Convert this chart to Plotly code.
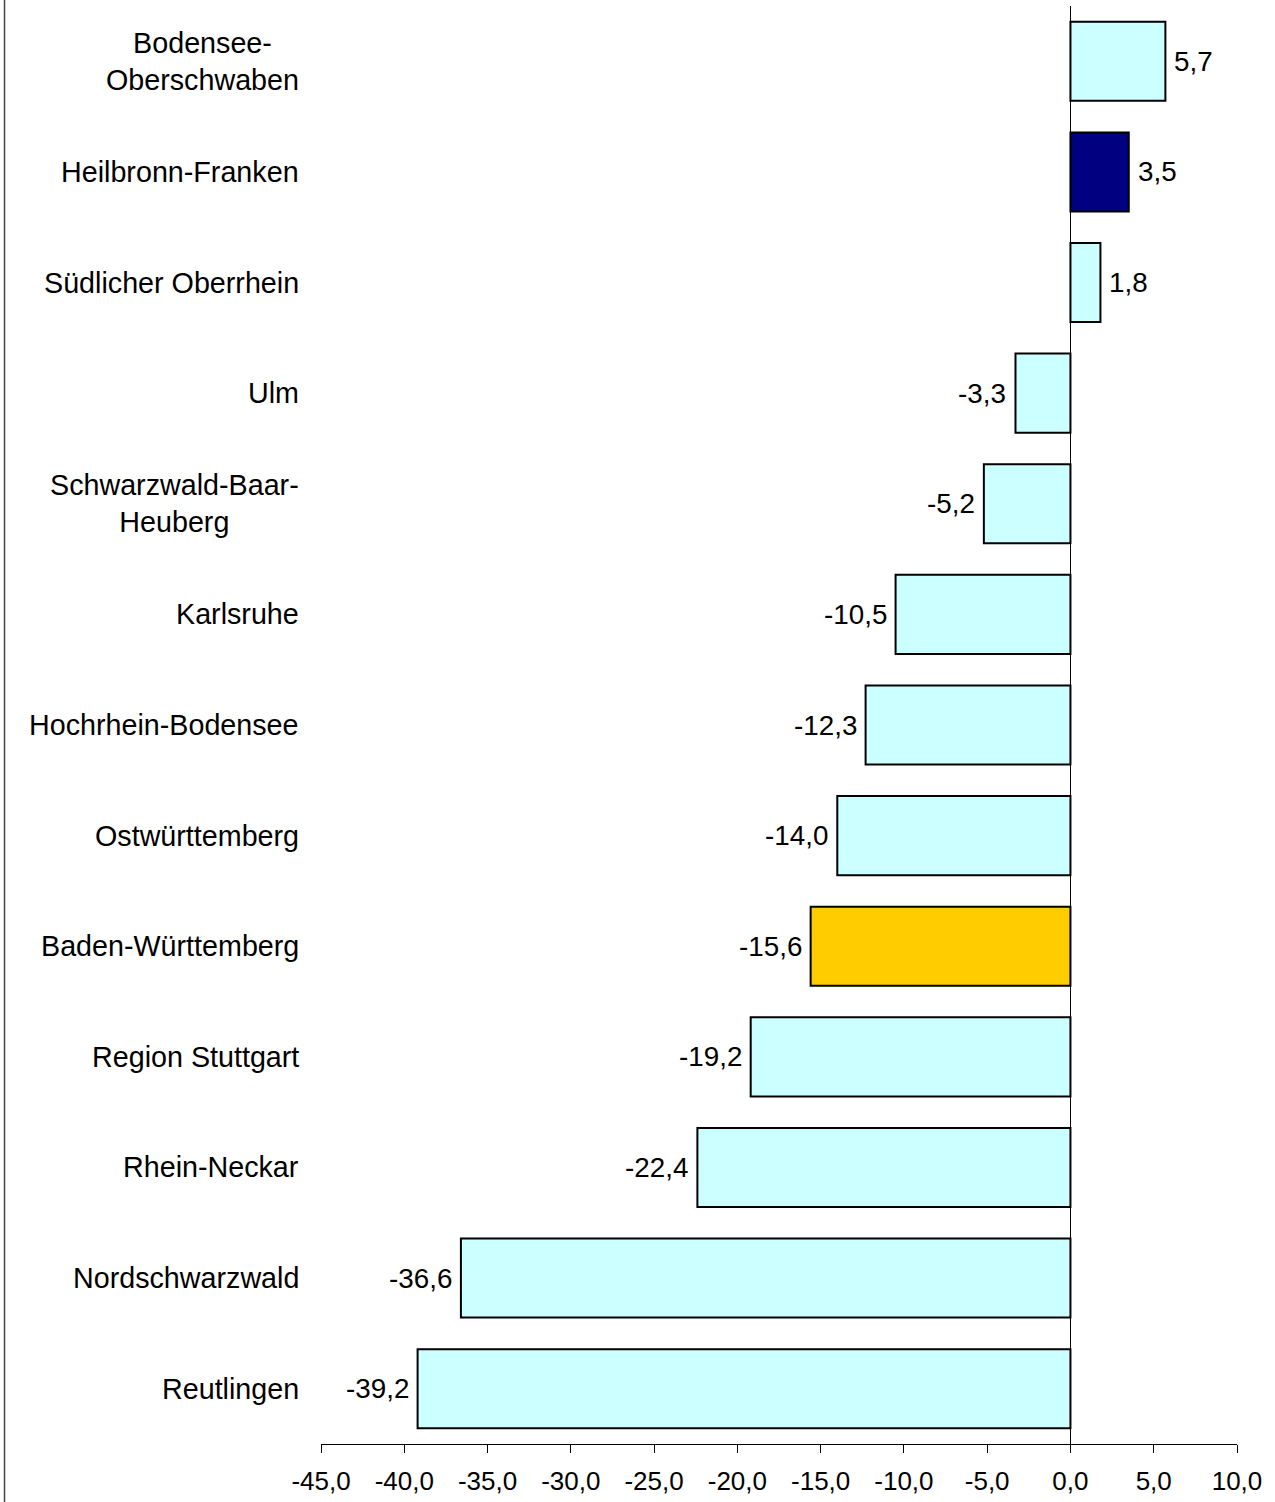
import plotly.graph_objects as go

regions = ["Bodensee-<br>Oberschwaben", "Heilbronn-Franken", "Südlicher Oberrhein", "Ulm",
           "Schwarzwald-Baar-<br>Heuberg", "Karlsruhe", "Hochrhein-Bodensee", "Ostwürttemberg",
           "Baden-Württemberg", "Region Stuttgart", "Rhein-Neckar", "Nordschwarzwald", "Reutlingen"]
values = [5.7, 3.5, 1.8, -3.3, -5.2, -10.5, -12.3, -14.0, -15.6, -19.2, -22.4, -36.6, -39.2]
bar_colors = ["#CCFFFF", "#000080", "#CCFFFF", "#CCFFFF", "#CCFFFF", "#CCFFFF", "#CCFFFF",
              "#CCFFFF", "#FFCC00", "#CCFFFF", "#CCFFFF", "#CCFFFF", "#CCFFFF"]
tick_vals = [-45, -40, -35, -30, -25, -20, -15, -10, -5, 0, 5, 10]
tick_text = ["-45,0", "-40,0", "-35,0", "-30,0", "-25,0", "-20,0", "-15,0", "-10,0", "-5,0",
             "0,0", "5,0", "10,0"]

FONT = "Liberation Sans, Arial, sans-serif"
idx = list(range(len(regions)))
labels = [f"{v:.1f}".replace(".", ",") for v in values]

fig = go.Figure(go.Bar(
    y=idx, x=values, orientation="h",
    marker=dict(color=bar_colors, line=dict(color="black", width=2)),
    width=0.715,
))

for i, r in enumerate(regions):
    fig.add_annotation(x=0, xref="paper", y=i, yref="y", text=r, showarrow=False,
                       xanchor="right", yanchor="middle", align="center", xshift=-20,
                       font=dict(family=FONT, size=28.7, color="black"))

for i, (v, t) in enumerate(zip(values, labels)):
    fig.add_annotation(x=v, xref="x", y=i, yref="y", text=t, showarrow=False,
                       xanchor="left" if v >= 0 else "right", yanchor="middle",
                       xshift=7 if v >= 0 else -7,
                       font=dict(family=FONT, size=27.8, color="black"))

fig.add_shape(type="line", xref="paper", yref="paper", x0=-0.3455, x1=-0.3455, y0=-0.05, y1=1.01,
              line=dict(color="#444444", width=1.5))

fig.update_layout(
    width=1275, height=1502,
    margin=dict(l=321, r=38, t=6, b=58),
    paper_bgcolor="white", plot_bgcolor="white",
    showlegend=False,
    xaxis=dict(range=[-45, 10], tickvals=tick_vals, ticktext=tick_text, showgrid=False,
               zeroline=True, zerolinecolor="black", zerolinewidth=1,
               showline=True, linecolor="black", linewidth=1,
               ticks="outside", ticklen=8, tickcolor="black", ticklabelstandoff=6,
               tickfont=dict(family=FONT, size=26, color="black")),
    yaxis=dict(range=[12.5, -0.5], showticklabels=False, showgrid=False, zeroline=False,
               showline=False, ticks=""),
)

fig.write_html("out.html", config={"displayModeBar": False},
               post_script="document.body.style.margin='0';document.body.style.overflow='hidden';")
